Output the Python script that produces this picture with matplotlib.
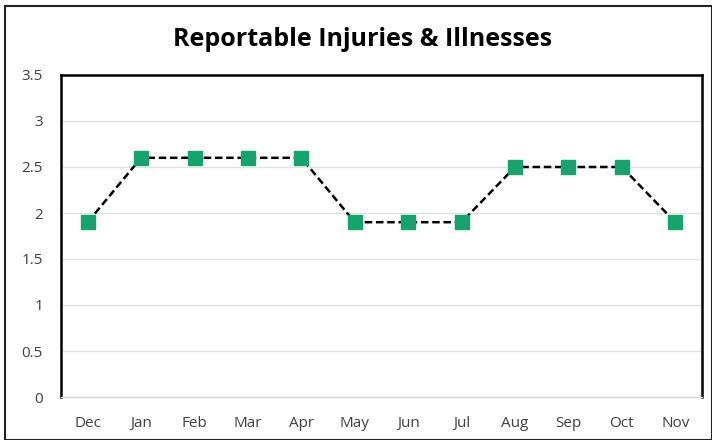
import matplotlib
matplotlib.use('Agg')
import matplotlib.pyplot as plt
from matplotlib.patches import Rectangle

months = ['Dec', 'Jan', 'Feb', 'Mar', 'Apr', 'May', 'Jun', 'Jul', 'Aug', 'Sep', 'Oct', 'Nov']
values = [1.9, 2.6, 2.6, 2.6, 2.6, 1.9, 1.9, 1.9, 2.5, 2.5, 2.5, 1.9]
yticks = [0, 0.5, 1, 1.5, 2, 2.5, 3, 3.5]
ylabels = ['0', '0.5', '1', '1.5', '2', '2.5', '3', '3.5']

plt.rcParams['font.family'] = ['Open Sans', 'DejaVu Sans']

fig = plt.figure(figsize=(7.12, 4.4), dpi=100)
ax = fig.add_axes([61/712, 43/440, 641/712, 322/440])

x = list(range(len(months)))
ax.plot(x, values, color='black', linestyle=(0, (3, 1.5)), linewidth=1.8, zorder=3,
        marker='s', markersize=10, markerfacecolor='#17a36e', markeredgecolor='#17a36e')

ax.set_xlim(-0.5, 11.5)
ax.set_ylim(0, 3.5)
ax.set_yticks(yticks)
ax.set_yticklabels(ylabels)
ax.set_xticks(x)
ax.set_xticklabels(months)
ax.tick_params(length=0, labelsize=11, colors='#404040', pad=13)
ax.tick_params(axis='x', pad=14)
ax.grid(axis='y', color='#e2e2e2', linewidth=1)
ax.set_axisbelow(True)
for s in ['left', 'top', 'right']:
    ax.spines[s].set_color('black')
    ax.spines[s].set_linewidth(1.8)
ax.spines['bottom'].set_color('#d9d9d9')
ax.spines['bottom'].set_linewidth(1)

fig.text(363/712, 1 - 40/440, 'Reportable Injuries & Illnesses', ha='center', va='center',
         fontsize=18, fontweight='bold', color='black')

# outer frame
fig.patches.append(Rectangle((5/712, 0), 1 - 5/712, 1 - 6/440, transform=fig.transFigure,
                             fill=False, edgecolor='#222222', linewidth=1.5))

fig.savefig('out.png', dpi=100)
